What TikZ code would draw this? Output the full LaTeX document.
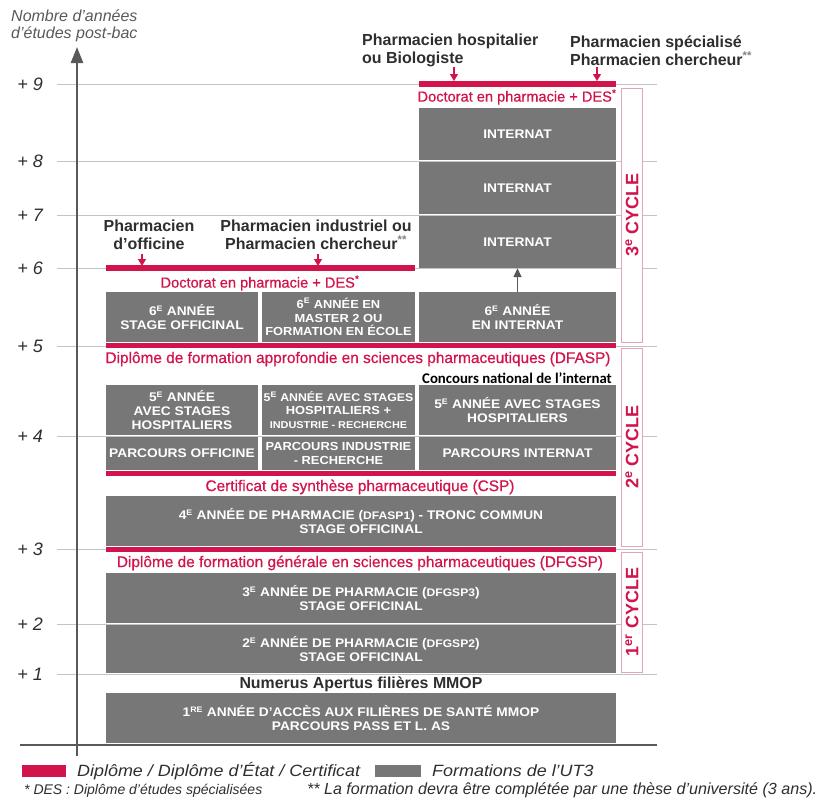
\documentclass[tikz,border=0pt]{standalone}
\usepackage{fontspec}
\setmainfont{Liberation Sans}
\newfontfamily\calfont{Carlito}
\newfontfamily\boxfont[FakeStretch=1.1]{Liberation Sans}
\newfontfamily\legfont[FakeStretch=1.1]{Liberation Sans}
\newfontfamily\redfont[FakeBold=0.7]{Liberation Sans}
\usetikzlibrary{arrows.meta}
\definecolor{rd}{HTML}{D2144C}
\definecolor{bgr}{HTML}{777777}
\definecolor{gl}{HTML}{C4C4C4}
\definecolor{pk}{HTML}{E3A5BA}
\definecolor{ax}{HTML}{595959}
\definecolor{tx}{HTML}{2E2E2E}
\newcommand\gbox[6]{\node[gbox,minimum width={(#4-#2)*1pt},minimum height={(#5-#3)*1pt}] (#1) at ({(#2+#4)/2},{(#3+#5)/2}) {#6};}
\newcommand\sE[1]{\textsuperscript{\fontsize{8}{8}\selectfont #1}}
\newcommand\sm[1]{{\fontsize{11}{12}\selectfont #1}}
\newcommand\nar{\fontsize{11.7}{13.5}\selectfont}
\newcommand\narr{\fontsize{11.2}{13.5}\selectfont}
\begin{document}
\begin{tikzpicture}[x=1pt,y=-1pt,
  gbox/.style={fill=bgr,draw=none,text=white,inner sep=0pt,align=center,font=\boxfont\bfseries\fontsize{12.5}{13.8}\selectfont},
  redlbl/.style={text=rd,inner sep=0pt,font=\redfont\fontsize{15.4}{17}\selectfont},
  hdr/.style={text=tx,inner sep=0pt,font=\bfseries\fontsize{16}{18}\selectfont},
  ylbl/.style={text=tx,inner sep=0pt,anchor=east,font=\itshape\fontsize{18}{20}\selectfont},
  cyc/.style={draw=pk,fill=white,line width=0.9pt,rotate=90,text=rd,inner sep=0pt,font=\bfseries\fontsize{18}{20}\selectfont},
  rarrow/.style={rd,line width=1.3pt,-{Triangle[width=8pt,length=7pt]}},
  garrow/.style={ax,line width=1.5pt,-{Triangle[width=8pt,length=9pt]}},
  grid/.style={gl,line width=1pt},
  legtxt/.style={text=tx,inner sep=0pt,anchor=west,font=\legfont\itshape\fontsize{16.3}{18}\selectfont}]
\useasboundingbox (0,0) rectangle (822,806);
% grid lines
\foreach \yy/\lab in {84/9,161/8,215/7,268/6,346/5,436/4,549/3,624/2,674/1}{
  \draw[grid] (57,\yy) -- (657,\yy);
  \node[ylbl] (y\lab) at (43,\yy) {+ \lab};
}
% boxes
\gbox{int1}{419}{108}{616}{160}{INTERNAT}
\gbox{int2}{419}{162}{616}{214}{INTERNAT}
\gbox{int3}{419}{216}{616}{268}{INTERNAT}
\gbox{ba}{106}{292}{258}{342}{6\sE{E} ANNÉE\\STAGE OFFICINAL}
\gbox{bb}{262}{292}{415}{342}{\nar 6\sE{E} ANNÉE EN\\\nar MASTER 2 OU\\\nar FORMATION EN ÉCOLE}
\gbox{bc}{419}{292}{616}{342}{6\sE{E} ANNÉE\\EN INTERNAT}
\gbox{ca}{106}{385}{258}{435}{5\sE{E} ANNÉE\\AVEC STAGES\\HOSPITALIERS}
\gbox{cb}{262}{385}{415}{435}{\narr 5\sE{E} ANNÉE AVEC STAGES\\\nar HOSPITALIERS +\\{\fontsize{9.9}{12}\selectfont INDUSTRIE - RECHERCHE}}
\gbox{cc}{419}{385}{616}{435}{5\sE{E} ANNÉE AVEC STAGES\\HOSPITALIERS}
\gbox{da}{106}{437}{258}{470}{PARCOURS OFFICINE}
\gbox{db}{262}{437}{415}{470}{\nar PARCOURS INDUSTRIE\\\nar - RECHERCHE}
\gbox{dc}{419}{437}{616}{470}{PARCOURS INTERNAT}
\gbox{e4}{106}{496}{616}{546}{4\sE{E} ANNÉE DE PHARMACIE (\sm{DFASP1}) - TRONC COMMUN\\STAGE OFFICINAL}
\gbox{e3}{106}{573}{616}{623}{3\sE{E} ANNÉE DE PHARMACIE (\sm{DFGSP3})\\STAGE OFFICINAL}
\gbox{e2}{106}{625}{616}{673}{2\sE{E} ANNÉE DE PHARMACIE (\sm{DFGSP2})\\STAGE OFFICINAL}
\gbox{e1}{106}{693}{616}{743}{1\sE{RE} ANNÉE D’ACCÈS AUX FILIÈRES DE SANTÉ MMOP\\PARCOURS PASS ET L. AS}
% red bars
\fill[rd] (419,80.5) rectangle (616,86.5);
\fill[rd] (106,265) rectangle (415,271);
\fill[rd] (106,342.5) rectangle (616,348);
\fill[rd] (106,470.5) rectangle (616,476);
\fill[rd] (106,546.5) rectangle (616,552);
% red labels
\node[redlbl,font=\redfont\fontsize{14.6}{17}\selectfont] (doc1) at (517,97) {Doctorat en pharmacie + DES\textsuperscript{*}};
\node[redlbl,font=\redfont\fontsize{14.6}{17}\selectfont] (doc2) at (260,283) {Doctorat en pharmacie + DES\textsuperscript{*}};
\node[redlbl] (dfasp) at (358,359) {Diplôme de formation approfondie en sciences pharmaceutiques (DFASP)};
\node[redlbl] (csp) at (360,487) {Certificat de synthèse pharmaceutique (CSP)};
\node[redlbl] (dfgsp) at (360,563) {Diplôme de formation générale en sciences pharmaceutiques (DFGSP)};
\node[text=black,inner sep=0pt,font=\calfont\bfseries\fontsize{14.8}{16}\selectfont] (conc) at (517,378) {Concours national de l’internat};
\node[text=tx,inner sep=0pt,font=\bfseries\fontsize{15.9}{18}\selectfont] (num) at (361,684) {Numerus Apertus filières MMOP};
% headers
\node[hdr,align=center] (h1) at (149,235) {Pharmacien\\d’officine};
\node[hdr,align=center] (h2) at (316,235) {Pharmacien industriel ou\\Pharmacien chercheur\textsuperscript{\textcolor{gray}{**}}};
\node[hdr,align=left,anchor=west] (h3) at (362,50.5) {Pharmacien hospitalier\\ou Biologiste};
\node[hdr,align=left,anchor=west] (h4) at (570,50.5) {Pharmacien spécialisé\\Pharmacien chercheur\textsuperscript{\textcolor{gray}{**}}};
\coordinate (a1s) at (142,254); \coordinate (a1e) at (142,266);
\coordinate (a2s) at (318,254); \coordinate (a2e) at (318,266);
\coordinate (a3s) at (454,67); \coordinate (a3e) at (454,81);
\coordinate (a4s) at (597,67); \coordinate (a4e) at (597,81);
\draw[rarrow] (a1s) -- (a1e);
\draw[rarrow] (a2s) -- (a2e);
\draw[rarrow] (a3s) -- (a3e);
\draw[rarrow] (a4s) -- (a4e);
\draw[garrow] (bc.north) -- (int3.south);
% cycle boxes
\node[cyc,minimum width=254pt,minimum height=21pt] (c3) at (632,215) {3\textsuperscript{e} CYCLE};
\node[cyc,minimum width=198pt,minimum height=21pt] (c2) at (632,447) {2\textsuperscript{e} CYCLE};
\node[cyc,minimum width=120pt,minimum height=21pt] (c1) at (632,612) {1\textsuperscript{er} CYCLE};
% axis
\draw[ax,line width=2.5pt] (20,745) -- (657,745);
\coordinate (axb) at (77,756); \coordinate (axt) at (77,47);
\draw[ax,line width=2.5pt,-{Triangle[width=12pt,length=16pt]}] (axb) -- (axt);
\node[text=ax,inner sep=0pt,anchor=west,align=left,font=\itshape\fontsize{16}{17.5}\selectfont] (ttl) at (11,26) {Nombre d'années\\d'études post-bac};
% legend
\fill[rd] (22,765) rectangle (66,777);
\node[legtxt] (l1) at (77,771) {Diplôme / Diplôme d’État / Certificat};
\fill[bgr] (375,765) rectangle (421,777);
\node[legtxt] (l2) at (432,771) {Formations de l’UT3};
\node[legtxt,font=\itshape\fontsize{14}{16}\selectfont] (fn) at (24,790) {* DES : Diplôme d’études spécialisées\hspace{3.2em}{\fontsize{16.1}{16}\selectfont ** La formation devra être complétée par une thèse d’université (3 ans).}};
\end{tikzpicture}
\end{document}
